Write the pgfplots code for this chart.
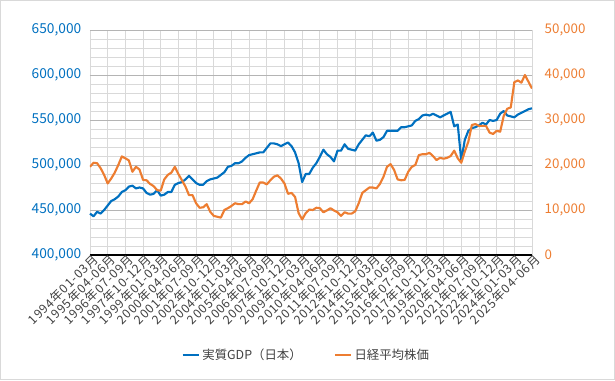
\documentclass[border=0pt]{standalone}
\usepackage{fontspec}
\setmainfont{Noto Sans CJK JP}
\newfontfamily\lblfont{Noto Sans CJK JP}[LetterSpace=7]
\usepackage{pgfplots}
\usepackage{pgfplotstable}
\pgfplotsset{compat=1.18}
\definecolor{gdpblue}{HTML}{0070C0}
\definecolor{nkorange}{HTML}{ED7D31}
\definecolor{majgrid}{HTML}{B4B4B4}
\definecolor{mingrid}{HTML}{D9D9D9}
\definecolor{lbl}{HTML}{404040}
\pgfplotstableread{
i gdp nikkei
0 446000 19600
1 443000 20500
2 448000 20400
3 446000 19300
4 450000 17800
5 455000 15900
6 460000 17000
7 462000 18300
8 465000 20000
9 470000 21900
10 472000 21500
11 476000 21000
12 477000 18500
13 474000 19600
14 475000 19000
15 474000 16700
16 469000 16600
17 467000 15800
18 468000 15300
19 472000 14400
20 466000 14300
21 467000 16800
22 470000 17800
23 470000 18300
24 478000 19600
25 480000 18000
26 481000 16600
27 484000 15200
28 488000 13300
29 484000 13300
30 480000 11500
31 478000 10500
32 478000 10600
33 482000 11300
34 484000 9600
35 485000 8700
36 486000 8500
37 489000 8300
38 492000 10000
39 498000 10400
40 499000 10900
41 502000 11500
42 502000 11300
43 504000 11300
44 508000 11900
45 511000 11500
46 512000 12400
47 513000 14300
48 514000 16100
49 514000 16100
50 519000 15700
51 524000 16600
52 524000 17400
53 523000 17700
54 521000 17000
55 523000 15900
56 525000 13600
57 521000 13800
58 514000 12900
59 502000 9300
60 481000 7900
61 490000 9300
62 490000 10100
63 497000 10000
64 502000 10500
65 509000 10400
66 517000 9500
67 512000 9900
68 509000 10400
69 504000 9900
70 516000 9500
71 516000 8700
72 523000 9500
73 518000 9200
74 517000 9200
75 516000 9700
76 523000 11500
77 528000 13800
78 533000 14400
79 532000 15000
80 536000 15000
81 527000 14800
82 528000 15800
83 531000 17400
84 538000 19600
85 538000 20200
86 538000 18900
87 538000 16800
88 542000 16600
89 542000 16700
90 543000 18500
91 544000 19600
92 549000 20000
93 551000 22200
94 555000 22400
95 556000 22400
96 555000 22700
97 557000 22000
98 555000 21100
99 553000 21600
100 555000 21400
101 557000 21600
102 559000 22000
103 543000 23200
104 545000 21500
105 505000 20500
106 528000 23000
107 538000 25200
108 541000 28900
109 542000 29100
110 544000 28700
111 547000 28700
112 545000 28700
113 550000 27200
114 549000 26900
115 550000 27600
116 557000 27400
117 560000 30900
118 555000 32500
119 554000 32800
120 553000 38400
121 556000 38800
122 558000 38300
123 560000 40000
124 562000 38500
125 563000 37000
}\datatable
\begin{document}
\begin{tikzpicture}
\begin{axis}[
  at={(0,0)}, anchor=south west,
  scale only axis, width=331.5pt, height=168.75pt,
  xmin=0, xmax=125, ymin=400000, ymax=650000,
  ytick={400000,450000,...,650000},
  minor ytick={410000,420000,...,640000},
  xtick={0,5,...,125},
  xticklabels={1994年01-03月,1995年04-06月,1996年07-09月,1997年10-12月,1999年01-03月,2000年04-06月,2001年07-09月,2002年10-12月,2004年01-03月,2005年04-06月,2006年07-09月,2007年10-12月,2009年01-03月,2010年04-06月,2011年07-09月,2012年10-12月,2014年01-03月,2015年04-06月,2016年07-09月,2017年10-12月,2019年01-03月,2020年04-06月,2021年07-09月,2022年10-12月,2024年01-03月,2025年04-06月},
  xticklabel style={rotate=45, anchor=east, font=\lblfont\fontsize{9.2}{10}\selectfont, text=lbl, inner sep=0pt, yshift=-4pt, xshift=2pt},
  scaled y ticks=false,
  yticklabel={\pgfmathprintnumber[fixed, precision=0, 1000 sep={,}, assume math mode=true]{\tick}},
  yticklabel style={text=gdpblue, font=\fontsize{10.3}{11}\selectfont, xshift=-3pt},
  ymajorgrids, yminorgrids, xmajorgrids,
  major y grid style={majgrid, line width=0.6pt},
  minor y grid style={mingrid, line width=0.6pt},
  major x grid style={mingrid, line width=0.6pt},
  axis x line*=bottom, axis y line*=left,
  x axis line style={black, line width=0.8pt},
  y axis line style={draw=none},
  tick style={draw=none},
  major tick length=0pt, minor tick length=0pt,
  clip=false,
]
\addplot[gdpblue, line width=1.6pt, line join=round] table[x=i, y=gdp] {\datatable};
\end{axis}
\begin{axis}[
  at={(0,0)}, anchor=south west,
  scale only axis, width=331.5pt, height=168.75pt,
  xmin=0, xmax=125, ymin=0, ymax=50000,
  axis x line=none, axis y line*=right,
  y axis line style={draw=none},
  ytick={0,10000,...,50000},
  tick style={draw=none}, major tick length=0pt,
  scaled y ticks=false,
  yticklabel={\pgfmathprintnumber[fixed, precision=0, 1000 sep={,}, assume math mode=true]{\tick}},
  yticklabel style={text=nkorange, font=\fontsize{10}{11}\selectfont, xshift=6pt},
  legend style={at={(0.49,-0.445)}, anchor=center, draw=none, fill=none,
    font=\fontsize{9.3}{10}\selectfont, text=lbl,
    /tikz/every even column/.append style={column sep=22pt}},
  legend columns=2,
  legend image code/.code={\draw[#1] (0pt,0pt) -- (12pt,0pt);},
]
\addlegendimage{gdpblue, line width=1.6pt}
\addlegendentry{実質GDP（日本）}
\addplot[nkorange, line width=1.6pt, line join=round] table[x=i, y=nikkei] {\datatable};
\addlegendentry{日経平均株価}
\end{axis}
\pgfresetboundingbox
\draw[mingrid, line width=0.75pt] (-67.1pt,-93.35pt) rectangle (393.35pt,190.85pt);
\useasboundingbox (-67.5pt,-93.75pt) rectangle (393.75pt,191.25pt);
\end{tikzpicture}
\end{document}
